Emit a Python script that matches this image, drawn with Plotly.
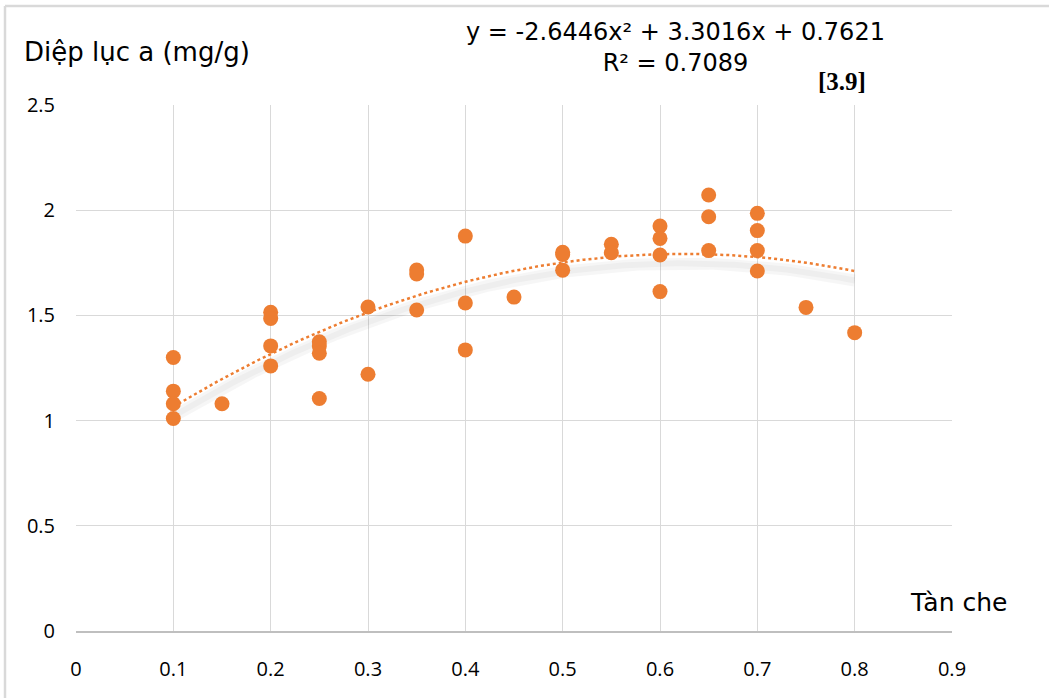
import numpy as np
import plotly.graph_objects as go

# data
x_vals = [0.1, 0.1, 0.1, 0.1, 0.15,
          0.2, 0.2, 0.2, 0.2,
          0.25, 0.25, 0.25, 0.25,
          0.3, 0.3,
          0.35, 0.35, 0.35,
          0.4, 0.4, 0.4,
          0.45,
          0.5, 0.5, 0.5,
          0.55, 0.55,
          0.6, 0.6, 0.6, 0.6,
          0.65, 0.65, 0.65,
          0.7, 0.7, 0.7, 0.7,
          0.75, 0.8]
y_vals = [1.30, 1.14, 1.08, 1.01, 1.08,
          1.515, 1.485, 1.355, 1.26,
          1.375, 1.355, 1.32, 1.105,
          1.54, 1.22,
          1.716, 1.697, 1.526,
          1.877, 1.559, 1.336,
          1.587,
          1.80, 1.79, 1.715,
          1.838, 1.798,
          1.925, 1.866, 1.787, 1.613,
          2.072, 1.969, 1.808,
          1.985, 1.903, 1.808, 1.711,
          1.538, 1.418]
coef = [-2.6446, 3.3016, 0.7621]
x_ticks = [0, 0.1, 0.2, 0.3, 0.4, 0.5, 0.6, 0.7, 0.8, 0.9]
y_ticks = [0, 0.5, 1, 1.5, 2, 2.5]

orange = "#ED7D31"
font = "Open Sans, Noto Sans, sans-serif"
wide = "DejaVu Sans, sans-serif"

xt = np.linspace(min(x_vals), max(x_vals), 200)
yt = np.polyval(coef, xt)

L, R, T, B = 76, 97, 105, 67
W, H = 1049, 698
pw, ph = W - L - R, H - T - B


def px(x):
    return (x - L) / pw


def py(y):
    return (H - B - y) / ph


fig = go.Figure()
# soft shadow of trendline
fig.add_trace(go.Scatter(x=xt, y=yt - 0.045, mode="lines",
                         line=dict(color="rgba(0,0,0,0.035)", width=12),
                         hoverinfo="skip", showlegend=False))
fig.add_trace(go.Scatter(x=xt, y=yt - 0.045, mode="lines",
                         line=dict(color="rgba(0,0,0,0.03)", width=6),
                         hoverinfo="skip", showlegend=False))
fig.add_trace(go.Scatter(x=xt, y=yt, mode="lines",
                         line=dict(color=orange, width=2.5, dash="dot"),
                         showlegend=False))
fig.add_trace(go.Scatter(x=x_vals, y=y_vals, mode="markers",
                         marker=dict(color=orange, size=15),
                         showlegend=False))

fig.update_layout(
    width=W, height=H,
    margin=dict(l=L, r=R, t=T, b=B),
    paper_bgcolor="white", plot_bgcolor="white",
    font=dict(family=font, size=20, color="#000000"),
    xaxis=dict(range=[0, 0.9], tickvals=x_ticks, ticktext=[str(v) for v in x_ticks],
               showgrid=True, gridcolor="#D9D9D9", gridwidth=1,
               zeroline=False, showline=True, linecolor="#BFBFBF", linewidth=1.5,
               ticks="", ticklabelstandoff=19, tickfont=dict(size=20)),
    yaxis=dict(range=[0, 2.5], tickvals=y_ticks, ticktext=[str(v) for v in y_ticks],
               showgrid=True, gridcolor="#D9D9D9", gridwidth=1,
               zeroline=False, showline=False,
               ticks="", ticklabelstandoff=20, tickfont=dict(size=20)),
    shapes=[
        dict(type="line", xref="paper", yref="paper",
             x0=px(5), x1=px(W + 5), y0=py(6), y1=py(6),
             line=dict(color="#D9D9D9", width=2.5)),
        dict(type="line", xref="paper", yref="paper",
             x0=px(5), x1=px(5), y0=py(6), y1=py(H + 5),
             line=dict(color="#D9D9D9", width=2.5)),
    ],
    annotations=[
        dict(text="Diệp lục a (mg/g)", xref="paper", yref="paper",
             x=px(22), y=py(52), xanchor="left", yanchor="middle",
             showarrow=False, font=dict(size=26, family=wide)),
        dict(text="y = -2.6446x² + 3.3016x + 0.7621<br>R² = 0.7089",
             xref="paper", yref="paper", x=px(675), y=py(47),
             xanchor="center", yanchor="middle", showarrow=False,
             font=dict(size=24, family=wide)),
        dict(text="<b>[3.9]</b>", xref="paper", yref="paper",
             x=px(842), y=py(81), xanchor="center", yanchor="middle",
             showarrow=False, font=dict(size=25, family="Liberation Serif, serif")),
        dict(text="Tàn che", xref="paper", yref="paper",
             x=px(958), y=py(602), xanchor="center", yanchor="middle",
             showarrow=False, font=dict(size=25, family=wide)),
    ],
)

fig.write_html("out.html")
